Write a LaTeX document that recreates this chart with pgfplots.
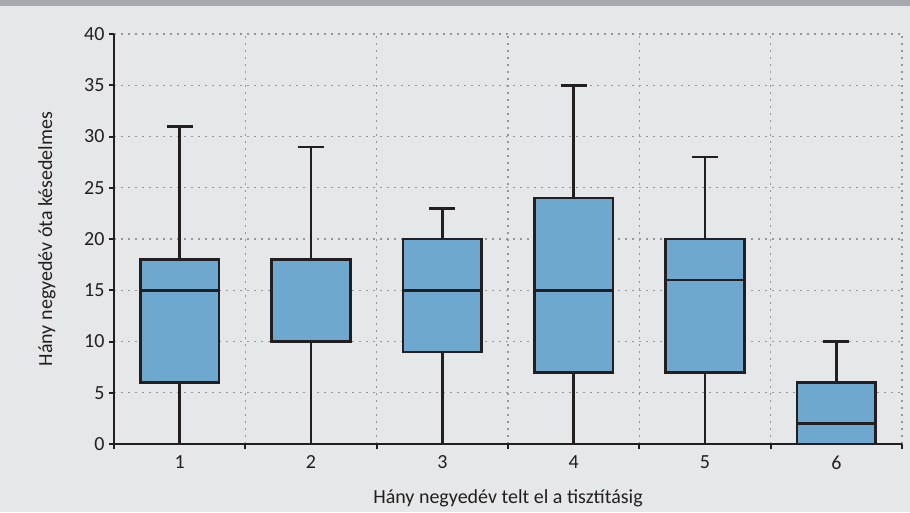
\documentclass[border=0pt]{standalone}
\usepackage{pgfplots}
\pgfplotsset{compat=1.18}
\usepgfplotslibrary{statistics}
\usepackage{fontspec}
\setmainfont{Carlito}
\definecolor{bg}{HTML}{E6E7E8}
\definecolor{band}{HTML}{A7A9AC}
\definecolor{boxblue}{HTML}{6FA8CF}
\definecolor{ink}{HTML}{231F20}
\definecolor{gridc}{HTML}{939598}
\begin{document}
\begin{tikzpicture}[x=1pt,y=1pt]
\fill[bg] (0,0) rectangle (910,512);
\fill[band] (0,506) rectangle (910,512);
\useasboundingbox (0,0) rectangle (910,512);
\begin{axis}[
  at={(114pt,68pt)}, anchor=south west,
  scale only axis, width=788pt, height=410pt,
  xmin=0.5, xmax=6.5, ymin=0, ymax=40,
  axis x line*=bottom, axis y line*=left,
  axis line style={ink, line width=2pt, -},
  xtick={0.5,1.5,...,6.5}, xticklabels={},
  extra x ticks={1,2,3,4,5,6},
  extra x tick labels={1,2,3,4,5,6},
  extra x tick style={major tick length=0pt, grid=none,
    xticklabel style={yshift=-8pt}},
  ytick={0,5,...,40},
  /pgf/number format/assume math mode=true,
  tick align=outside, major tick length=5pt,
  tick style={ink, line width=2pt},
  xmajorgrids, ymajorgrids,
  grid style={gridc, line width=1.3pt, dash pattern=on 2pt off 5pt},
  ticklabel style={font=\fontsize{20}{22}\selectfont, text=ink},
  yticklabel style={xshift=-1pt},
  label style={font=\fontsize{20}{22}\selectfont, text=ink},
  xlabel={Hány negyedév telt el a tisztításig},
  ylabel={Hány negyedév óta késedelmes},
  xlabel style={at={(axis description cs:0.5,-0.132)}, anchor=center},
  ylabel style={at={(axis description cs:-0.085,0.5)}, anchor=center},
  boxplot/draw direction=y,
  boxplot/box extend=0.6,
  boxplot/whisker extend=0.2,
]
\addplot[boxplot prepared={draw position=1, lower whisker=0, lower quartile=6, median=15, upper quartile=18, upper whisker=31}, fill=boxblue, draw=ink, line width=2.5pt, solid] coordinates {};
\addplot[boxplot prepared={draw position=2, lower whisker=0, lower quartile=10, median=18, upper quartile=18, upper whisker=29}, fill=boxblue, draw=ink, line width=2.5pt, solid] coordinates {};
\addplot[boxplot prepared={draw position=3, lower whisker=0, lower quartile=9, median=15, upper quartile=20, upper whisker=23}, fill=boxblue, draw=ink, line width=2.5pt, solid] coordinates {};
\addplot[boxplot prepared={draw position=4, lower whisker=0, lower quartile=7, median=15, upper quartile=24, upper whisker=35}, fill=boxblue, draw=ink, line width=2.5pt, solid] coordinates {};
\addplot[boxplot prepared={draw position=5, lower whisker=0, lower quartile=7, median=16, upper quartile=20, upper whisker=28}, fill=boxblue, draw=ink, line width=2.5pt, solid] coordinates {};
\addplot[boxplot prepared={draw position=6, lower whisker=0, lower quartile=0, median=2, upper quartile=6, upper whisker=10}, fill=boxblue, draw=ink, line width=2.5pt, solid] coordinates {};
\end{axis}
\end{tikzpicture}
\end{document}
